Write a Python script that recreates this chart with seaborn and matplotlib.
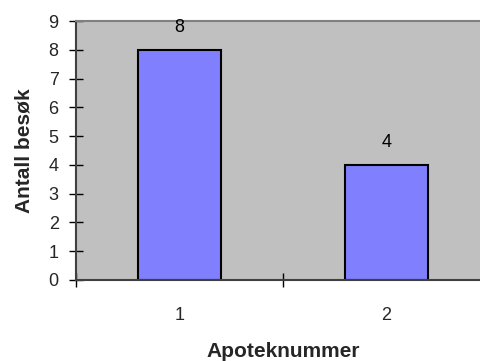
import matplotlib
matplotlib.use("Agg")
import matplotlib.pyplot as plt
import seaborn as sns
import pandas as pd

# Visits per pharmacy
apotek = ["1", "2"]
besok = [8, 4]

sns.set_theme(style="white")
plt.rcParams["font.family"] = ["Liberation Sans", "DejaVu Sans"]

df = pd.DataFrame({"Apoteknummer": apotek, "Antall besøk": besok})

fig = plt.figure(figsize=(4.81, 3.61), dpi=100)
ax = fig.add_axes([76 / 481, 1 - 280 / 361, (490 - 76) / 481, (280 - 21) / 361])
ax.set_facecolor("#c0c0c0")

sns.barplot(data=df, x="Apoteknummer", y="Antall besøk", color="#8080ff",
            saturation=1, width=0.4, edgecolor="black", linewidth=1.5, ax=ax)

for i, v in enumerate(besok):
    ax.text(i, v + 0.78, str(v), ha="center", va="center", fontsize=13, color="black")

ax.set_ylim(0, 9)
ax.set_xlim(-0.5, 1.5)
ax.set_yticks(range(0, 10))
ax.tick_params(axis="y", direction="inout", length=10, width=1, color="black",
               labelsize=13, pad=7.5, left=True)

# category boundaries carry the tick marks, labels sit at bar centres
ax.set_xticks([-0.5, 0.5, 1.5])
ax.set_xticklabels([])
ax.set_xticks([0, 1], minor=True)
ax.set_xticklabels(apotek, minor=True)
ax.tick_params(axis="x", which="major", direction="inout", length=10, width=1,
               color="black", bottom=True)
ax.tick_params(axis="x", which="minor", length=0, labelsize=13, pad=19.5)

ax.spines["top"].set_color("#808080")
ax.spines["top"].set_linewidth(1.5)
ax.spines["left"].set_color("#404040")
ax.spines["left"].set_linewidth(1.5)
ax.spines["bottom"].set_color("#404040")
ax.spines["bottom"].set_linewidth(1.5)
ax.spines["right"].set_visible(False)

ax.set_xlabel("Apoteknummer", fontsize=15, fontweight="bold", labelpad=13)
ax.set_ylabel("Antall besøk", fontsize=15, fontweight="bold", labelpad=11)

fig.savefig("out.png", dpi=100)
